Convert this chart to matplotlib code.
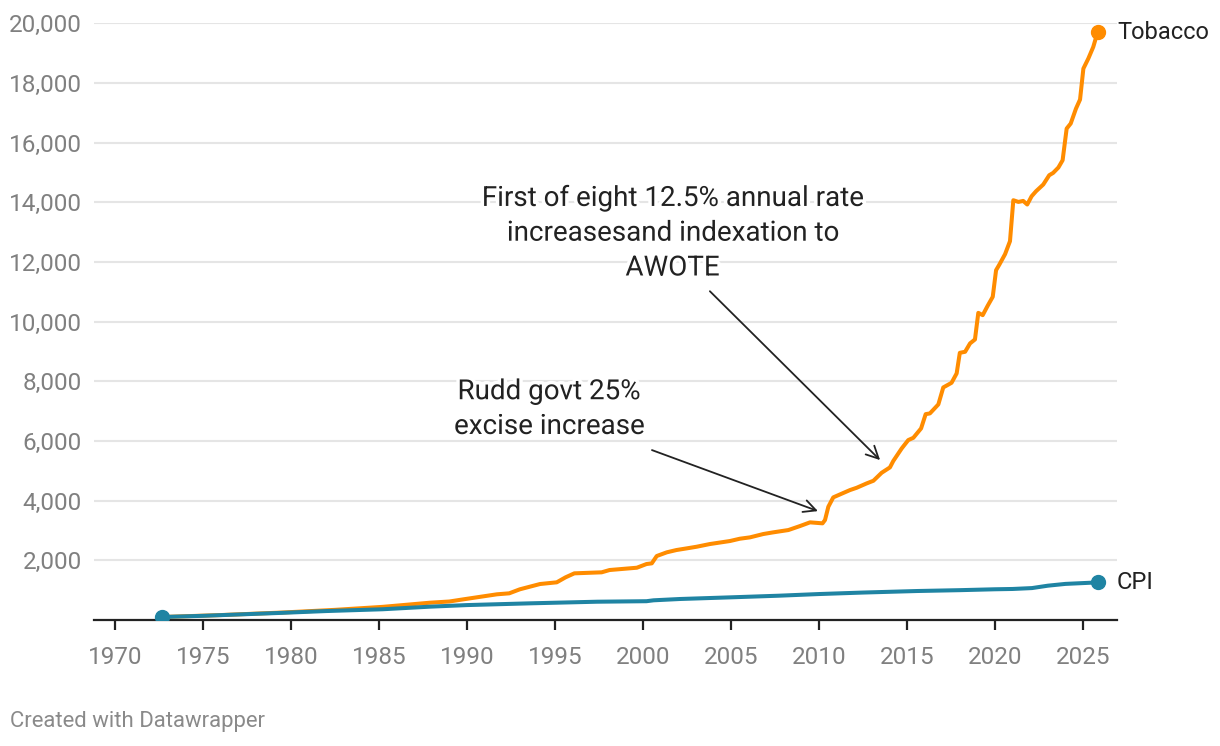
import matplotlib
matplotlib.use("Agg")
import matplotlib.pyplot as plt
import matplotlib.patheffects as pe
import numpy as np

# ---- data ----
tobacco_years = [1972.65, 1976.0, 1979.5, 1982.5, 1985.2, 1987.9, 1989.0, 1989.8, 1991.7, 1992.4,
                 1993.0, 1994.15, 1995.1, 1995.6, 1996.1, 1997.65, 1998.1, 1999.65, 2000.2, 2000.5,
                 2000.78, 2001.35, 2001.9, 2002.5, 2003.05, 2003.8, 2004.94, 2005.5, 2006.08, 2006.83,
                 2007.4, 2008.26, 2008.92, 2009.49, 2010.2, 2010.34, 2010.53, 2010.81, 2011.2, 2011.76,
                 2012.14, 2012.71, 2013.09, 2013.56, 2014.03, 2014.22, 2014.7, 2015.07, 2015.36, 2015.8,
                 2016.06, 2016.3, 2016.78, 2017.06, 2017.53, 2017.82, 2018.0, 2018.3, 2018.58, 2018.86,
                 2019.05, 2019.3, 2019.58, 2019.87, 2020.06, 2020.25, 2020.57, 2020.85, 2021.04, 2021.33,
                 2021.6, 2021.83, 2022.08, 2022.33, 2022.74, 2023.08, 2023.3, 2023.6, 2023.84, 2024.07,
                 2024.3, 2024.6, 2024.83, 2025.02, 2025.3, 2025.58, 2025.83]
tobacco_values = [100, 165, 250, 340, 440, 580, 620, 693, 861, 894,
                  1028, 1206, 1263, 1430, 1564, 1598, 1675, 1752, 1876, 1899,
                  2144, 2268, 2345, 2402, 2456, 2546, 2647, 2724, 2770, 2881,
                  2938, 3015, 3149, 3273, 3240, 3350, 3796, 4110, 4211, 4355,
                  4432, 4579, 4667, 4935, 5115, 5330, 5752, 6030, 6107, 6422,
                  6900, 6924, 7226, 7795, 7950, 8265, 8955, 8990, 9270, 9403,
                  10295, 10218, 10530, 10832, 11725, 11916, 12261, 12697, 14070, 14013,
                  14047, 13926, 14204, 14371, 14596, 14908, 14985, 15166, 15410, 16472,
                  16640, 17142, 17444, 18482, 18817, 19206, 19708]

cpi_years = [1972.65, 1975.0, 1977.0, 1979.5, 1982.0, 1985.2, 1987.9, 1990.0, 1993.6, 1997.4,
             2000.2, 2000.6, 2002.1, 2005.0, 2007.7, 2010.0, 2012.5, 2015.6, 2018.0, 2020.0,
             2021.0, 2022.1, 2023.0, 2024.0, 2025.83]
cpi_values = [100, 140, 185, 240, 300, 360, 447, 500, 559, 613,
              630, 660, 704, 760, 814, 870, 920, 972, 1000, 1030,
              1040, 1070, 1150, 1210, 1260]

y_ticks = [2000, 4000, 6000, 8000, 10000, 12000, 14000, 16000, 18000, 20000]
x_ticks = [1970, 1975, 1980, 1985, 1990, 1995, 2000, 2005, 2010, 2015, 2020, 2025]

series_labels = ["Tobacco", "CPI"]
note_excise = "Rudd govt 25%\nexcise increase"
note_awote = "First of eight 12.5% annual rate\nincreasesand indexation to\nAWOTE"
footer = "Created with Datawrapper"

# ---- styling ----
plt.rcParams['font.family'] = ['Roboto', 'DejaVu Sans']
ORANGE = "#ff8c00"
TEAL = "#1f84a3"
GRID = "#e5e5e5"
TICK_TXT = "#808080"
DARK = "#222222"

W, H = 1220, 746
fig = plt.figure(figsize=(W / 100, H / 100), dpi=100)
ax = fig.add_axes([94 / W, 1 - 620 / H, (1117 - 94) / W, (620 - 23.3) / H])

ax.set_xlim(1968.81, 2026.93)
ax.set_ylim(0, 20000)

for s in ["top", "right", "left"]:
    ax.spines[s].set_visible(False)
ax.spines["bottom"].set_color(DARK)
ax.spines["bottom"].set_linewidth(1.6)

ax.set_yticks(y_ticks)
ax.set_yticklabels([f"{v:,}" for v in y_ticks])
ax.set_xticks(x_ticks)
ax.set_xticklabels([str(v) for v in x_ticks])
ax.tick_params(axis="y", length=0, pad=8.6, labelsize=17.5, labelcolor=TICK_TXT)
ax.tick_params(axis="x", length=7, width=1.6, color=DARK, pad=12, labelsize=17.5, labelcolor=TICK_TXT)
ax.grid(axis="y", color=GRID, linewidth=1.5)
ax.set_axisbelow(True)

ax.plot(tobacco_years, tobacco_values, color=ORANGE, lw=2.9, solid_joinstyle="round",
        solid_capstyle="round", zorder=3)
ax.plot(cpi_years, cpi_values, color=TEAL, lw=2.9, solid_joinstyle="round",
        solid_capstyle="round", zorder=4)

ax.plot([tobacco_years[-1]], [tobacco_values[-1]], "o", color=ORANGE, ms=10, zorder=5)
ax.plot([cpi_years[-1]], [cpi_values[-1]], "o", color=TEAL, ms=10, zorder=5)
ax.plot([cpi_years[0]], [cpi_values[0]], "o", color=TEAL, ms=10, zorder=5)

ax.annotate(series_labels[0], xy=(tobacco_years[-1], tobacco_values[-1]), xytext=(14, 0),
            textcoords="offset points", va="center", ha="left", fontsize=17, color=DARK,
            annotation_clip=False)
ax.annotate(series_labels[1], xy=(cpi_years[-1], cpi_values[-1]), xytext=(14, 0),
            textcoords="offset points", va="center", ha="left", fontsize=17, color=DARK,
            annotation_clip=False)

halo = [pe.withStroke(linewidth=5, foreground="white")]
ax.text(2001.68, 12965, note_awote, ha="center", va="center", fontsize=20, color=DARK,
        linespacing=1.37, path_effects=halo, zorder=6)
ax.text(1994.66, 7069, note_excise, ha="center", va="center", fontsize=20, color=DARK,
        linespacing=1.37, path_effects=halo, zorder=6)

arrow = dict(arrowstyle="->", color=DARK, lw=1.3, mutation_scale=22, shrinkA=0, shrinkB=0)
ax.annotate("", xy=(2013.47, 5360), xytext=(2003.8, 11020), arrowprops=arrow, zorder=6)
ax.annotate("", xy=(2009.94, 3650), xytext=(2000.51, 5695), arrowprops=arrow, zorder=6)

fig.text(10 / W, 1 - 722 / H, footer, ha="left", va="center", fontsize=15.9, color="#8a8a8a")

fig.savefig("out.png", dpi=100, facecolor="white")
